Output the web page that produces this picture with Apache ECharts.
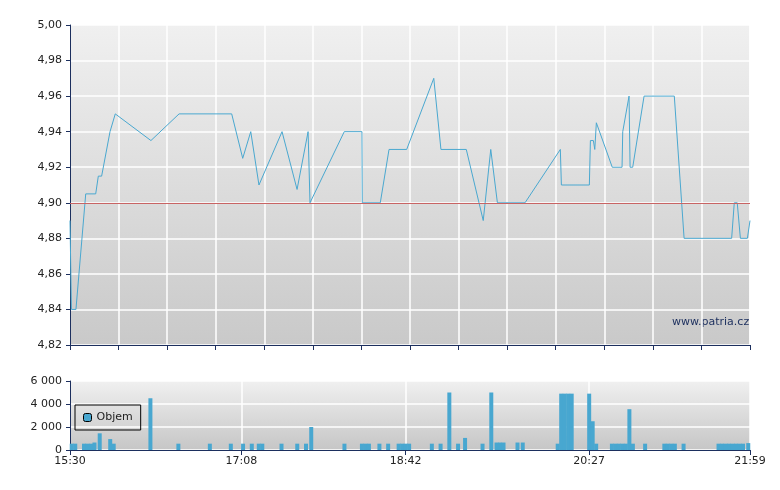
<!DOCTYPE html>
<html>
<head>
<meta charset="utf-8">
<script src="https://cdn.jsdelivr.net/npm/echarts@6/dist/echarts.min.js"></script>
<style>html,body{margin:0;background:#fff}#main{width:780px;height:490px}</style>
</head>
<body>
<div id="main"></div>
<script>
// minutes from 15:30
var priceMinutes = [0, 0.8, 3.4, 9, 14.7, 16.2, 18.1, 22.9, 23.9, 25.9, 46.3, 62.4, 92.5, 98.8, 103.4, 108.1, 121.3, 129.9, 136.2, 137.3,
    156.9, 167, 167.2, 177.5, 182.5, 192.6, 208.1, 212.2, 226.7, 236.4, 240.7, 241.8, 244.5, 260.3, 280.5, 281.1, 297.1, 297.7, 299.4,
    300.2, 301.1, 310.2, 315.8, 316.2, 319.8, 320.4, 321.9, 328.4, 345.7, 351.3, 378.5, 380, 381.7, 383.5, 387.5, 389];
var priceValues = [4.89, 4.84, 4.84, 4.905, 4.905, 4.915, 4.915, 4.94, 4.94, 4.95, 4.935, 4.95, 4.95, 4.925, 4.94, 4.91, 4.94, 4.9075, 4.94, 4.90,
    4.94, 4.94, 4.90, 4.90, 4.93, 4.93, 4.97, 4.93, 4.93, 4.89, 4.93, 4.93, 4.90, 4.90, 4.93, 4.91, 4.91, 4.935, 4.935,
    4.93, 4.945, 4.92, 4.92, 4.94, 4.96, 4.92, 4.92, 4.96, 4.96, 4.88, 4.88, 4.90, 4.90, 4.88, 4.88, 4.89];
var volMinutes = [1, 3, 8, 10, 12, 14, 17, 23, 25, 46, 62, 80, 92, 99, 104, 108, 110, 121, 130, 135, 138, 157, 167, 169, 171, 177, 182,
    188, 190, 192, 194, 207, 212, 217, 222, 226, 236, 241, 244, 246, 248, 256, 259, 279, 281, 283, 285, 287, 297, 299, 301,
    310, 312, 314, 316, 318, 320, 322, 329, 340, 342, 344, 346, 351, 371, 373, 375, 377, 379, 381, 383, 385, 388];
var volValues = [550, 550, 550, 550, 550, 650, 1450, 950, 550, 4500, 550, 550, 550, 550, 550, 550, 550, 550, 550, 550, 2000, 550, 550, 550, 550, 550, 550,
    550, 550, 550, 550, 550, 550, 5000, 550, 1050, 550, 5000, 650, 650, 650, 650, 650, 550, 4900, 4900, 4900, 4900, 4900, 2500, 550,
    550, 550, 550, 550, 550, 3550, 550, 550, 550, 550, 550, 550, 550, 550, 550, 550, 550, 550, 550, 550, 550, 600];
var timeLabels = {0: '15:30', 98: '17:08', 192: '18:42', 297: '20:27', 389: '21:59'};

var mChart = echarts.init(document.getElementById('main'));
var minutes = [];
for (var i = 0; i <= 389; i++) minutes.push(timeLabels[i] || '');
var isLbl = function (i) { return timeLabels[i] !== undefined; };
var bg = function (a, b) {
    return new echarts.graphic.LinearGradient(0, 0, 0, 1, [{offset: 0, color: a}, {offset: 1, color: b}]);
};
var axisCol = '#1c2f5e';
var lblStyle = {color: '#222', fontFamily: 'DejaVu Sans', fontSize: 11};

var option = {
    animation: false,
    grid: [
        {left: 70, right: 30, top: 25, height: 320, show: true, borderWidth: 0, backgroundColor: bg('#f0f0f0', '#c9c9c9')},
        {left: 70, right: 30, top: 381, height: 69, show: true, borderWidth: 0, backgroundColor: bg('#f0f0f0', '#c6c6c6')}
    ],
    legend: {
        data: ['Objem'], left: 75, top: 405, orient: 'vertical', borderColor: '#000', borderWidth: 1,
        padding: [7, 8], itemWidth: 8, itemHeight: 8, textStyle: lblStyle,
        itemStyle: {borderColor: '#000', borderWidth: 1}
    },
    xAxis: [
        {type: 'value', gridIndex: 0, min: 0, max: 389, interval: 389 / 14,
            axisLine: {lineStyle: {color: axisCol}}, axisTick: {show: true, length: 5, lineStyle: {color: axisCol}},
            axisLabel: {show: false}, splitLine: {lineStyle: {color: '#fff', width: 1.5}}},
        {type: 'category', gridIndex: 1, data: minutes, boundaryGap: false,
            axisLine: {lineStyle: {color: axisCol}},
            axisTick: {interval: function (i) { return isLbl(i); }, length: 5, lineStyle: {color: axisCol}},
            axisLabel: Object.assign({interval: function (i) { return isLbl(i); }, margin: 6}, lblStyle),
            splitLine: {show: true, interval: function (i) { return isLbl(i); }, lineStyle: {color: '#fff', width: 1.5}}}
    ],
    yAxis: [
        {type: 'value', gridIndex: 0, min: 4.82, max: 5.00, interval: 0.02,
            axisLine: {show: true, lineStyle: {color: axisCol}}, axisTick: {show: true, length: 4, lineStyle: {color: axisCol}},
            axisLabel: Object.assign({formatter: function (v) { return v.toFixed(2).replace('.', ','); }}, lblStyle),
            splitLine: {lineStyle: {color: '#fff', width: 1.5}}},
        {type: 'value', gridIndex: 1, min: 0, max: 6000, interval: 2000,
            axisLine: {show: true, lineStyle: {color: axisCol}}, axisTick: {show: true, length: 4, lineStyle: {color: axisCol}},
            axisLabel: Object.assign({formatter: function (v) { return v >= 1000 ? Math.floor(v / 1000) + ' 000' : '' + v; }}, lblStyle),
            splitLine: {lineStyle: {color: '#fff', width: 1.5}}}
    ],
    series: [
        {name: 'Cena', type: 'line', xAxisIndex: 0, yAxisIndex: 0, showSymbol: false,
            lineStyle: {color: '#4aa8d0', width: 1},
            data: priceMinutes.map(function (m, i) { return [m, priceValues[i]]; }),
            markLine: {silent: true, symbol: 'none', label: {show: false},
                lineStyle: {color: '#c86464', type: 'solid', width: 1}, data: [{yAxis: 4.90}]}},
        {name: 'Objem', type: 'bar', xAxisIndex: 1, yAxisIndex: 1, barWidth: 4,
            itemStyle: {color: '#48a7d0'},
            data: volMinutes.map(function (m, i) { return [m, volValues[i]]; })}
    ],
    graphic: [{type: 'text', left: 672, top: 317,
        style: {text: 'www.patria.cz', fill: '#1c2f5e', font: '11px DejaVu Sans'}}]
};
mChart.setOption(option);
</script>
</body>
</html>
